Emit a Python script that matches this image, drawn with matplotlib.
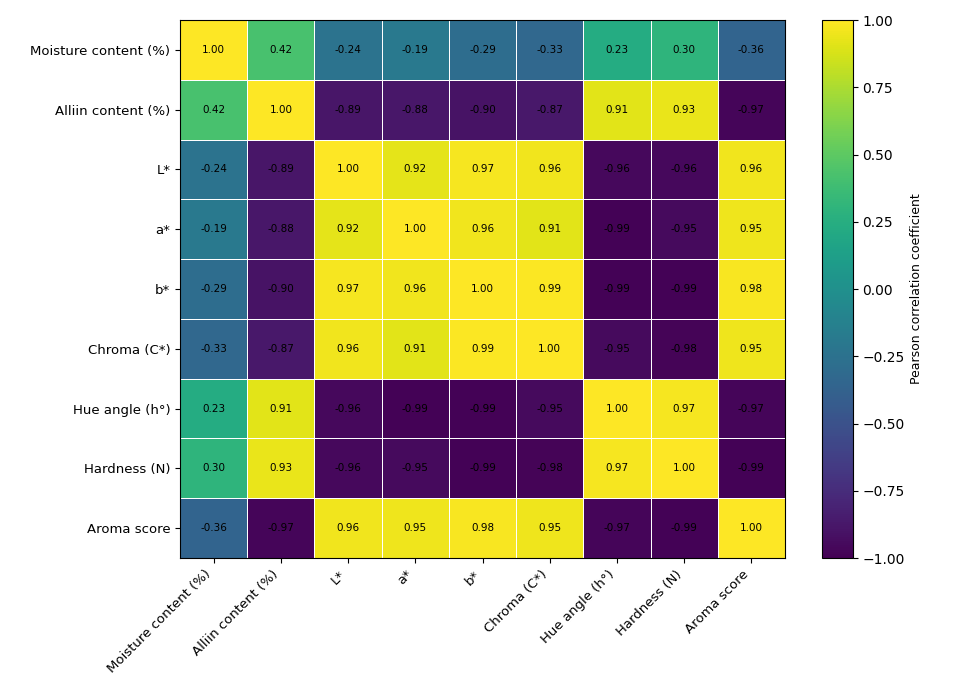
import numpy as np
import matplotlib
matplotlib.use("Agg")
import matplotlib.pyplot as plt

labels = ["Moisture content (%)", "Alliin content (%)", "L*", "a*", "b*",
          "Chroma (C*)", "Hue angle (h°)", "Hardness (N)", "Aroma score"]

moisture = [1.00, 0.42, -0.24, -0.19, -0.29, -0.33, 0.23, 0.30, -0.36]
alliin = [0.42, 1.00, -0.89, -0.88, -0.90, -0.87, 0.91, 0.93, -0.97]
l_star = [-0.24, -0.89, 1.00, 0.92, 0.97, 0.96, -0.96, -0.96, 0.96]
a_star = [-0.19, -0.88, 0.92, 1.00, 0.96, 0.91, -0.99, -0.95, 0.95]
b_star = [-0.29, -0.90, 0.97, 0.96, 1.00, 0.99, -0.99, -0.99, 0.98]
chroma = [-0.33, -0.87, 0.96, 0.91, 0.99, 1.00, -0.95, -0.98, 0.95]
hue = [0.23, 0.91, -0.96, -0.99, -0.99, -0.95, 1.00, 0.97, -0.97]
hardness = [0.30, 0.93, -0.96, -0.95, -0.99, -0.98, 0.97, 1.00, -0.99]
aroma = [-0.36, -0.97, 0.96, 0.95, 0.98, 0.95, -0.97, -0.99, 1.00]

corr = np.array([moisture, alliin, l_star, a_star, b_star, chroma, hue, hardness, aroma])
n = len(labels)

fig = plt.figure(figsize=(9.59, 6.74), dpi=100)
ax = fig.add_axes([0.1877, 0.1721, 0.6309, 0.7982])
cax = fig.add_axes([0.857, 0.1721, 0.0323, 0.7982])

mesh = ax.pcolormesh(corr, cmap="viridis", vmin=-1, vmax=1,
                     edgecolors="white", linewidth=0.5)
ax.set_xlim(0, n)
ax.set_ylim(n, 0)

for i in range(n):
    for j in range(n):
        ax.text(j + 0.5, i + 0.5, f"{corr[i, j]:.2f}", ha="center", va="center",
                fontsize=7.5, color="black")

ax.set_xticks(np.arange(n) + 0.5)
ax.set_yticks(np.arange(n) + 0.5)
ax.set_xticklabels(labels, rotation=45, ha="right", fontsize=9.5)
ax.set_yticklabels(labels, fontsize=9.5)

cb = fig.colorbar(mesh, cax=cax)
cb.set_ticks([-1, -0.75, -0.5, -0.25, 0, 0.25, 0.5, 0.75, 1])
cb.ax.tick_params(labelsize=10)
cb.set_label("Pearson correlation coefficient", fontsize=9)

fig.savefig("out.png", dpi=100)
